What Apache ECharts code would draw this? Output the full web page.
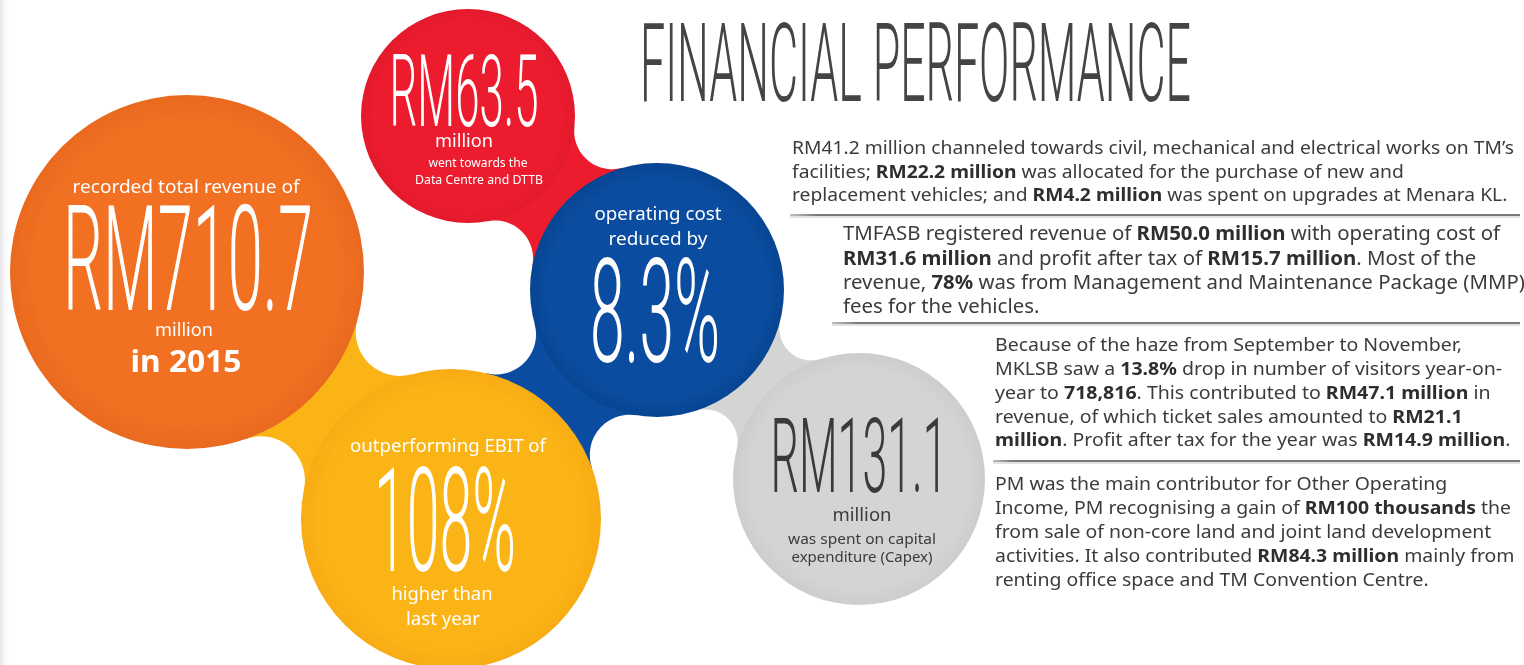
<!DOCTYPE html>
<html>
<head>
<meta charset="utf-8">
<title>Financial Performance</title>
<script src="https://cdn.jsdelivr.net/npm/echarts@6/dist/echarts.min.js"></script>
<style>
  html, body { margin: 0; padding: 0; background: #fff; }
  #chart { width: 1524px; height: 665px; }
</style>
</head>
<body>
<div id="chart"></div>
<script>
// headline figures, one per bubble
const bubbleKeys = ['revenue', 'dataCentre', 'opCost', 'ebit', 'capex'];
const bigFigures = ['RM710.7', 'RM63.5', '8.3%', '108%', 'RM131.1'];
const captionsAbove = [
  ['recorded total revenue of'],
  [],
  ['operating cost', 'reduced by'],
  ['outperforming EBIT of'],
  []
];
const captionsBelow = [
  ['million', 'in 2015'],
  ['million', 'went towards the', 'Data Centre and DTTB'],
  [],
  ['higher than', 'last year'],
  ['million', 'was spent on capital', 'expenditure (Capex)']
];
const bubbleLinks = [['revenue', 'ebit'], ['dataCentre', 'opCost'], ['opCost', 'ebit'], ['opCost', 'capex']];
const titleText = 'FINANCIAL PERFORMANCE';
// ** marks the bold runs
const notes = [
  ['RM41.2 million channeled towards civil, mechanical and electrical works on TM’s',
   'facilities; **RM22.2 million** was allocated for the purchase of new and',
   'replacement vehicles; and **RM4.2 million** was spent on upgrades at Menara KL.'],
  ['TMFASB registered revenue of **RM50.0 million** with operating cost of',
   '**RM31.6 million** and profit after tax of **RM15.7 million**. Most of the',
   'revenue, **78%** was from Management and Maintenance Package (MMP)',
   'fees for the vehicles.'],
  ['Because of the haze from September to November,',
   'MKLSB saw a **13.8%** drop in number of visitors year-on-',
   'year to **718,816**. This contributed to **RM47.1 million** in',
   'revenue, of which ticket sales amounted to **RM21.1**',
   '**million**. Profit after tax for the year was **RM14.9 million**.'],
  ['PM was the main contributor for Other Operating',
   'Income, PM recognising a gain of **RM100 thousands** the',
   'from sale of non-core land and joint land development',
   'activities. It also contributed **RM84.3 million** mainly from',
   'renting office space and TM Convention Centre.']
];

// ---- layout & styling (pixels on a 1524 x 665 canvas) ----
const W = 1524, H = 665;
const FIG_FONT = 'Roboto, "Liberation Sans Narrow", sans-serif';
const CAP_FONT = '"Noto Sans", "Open Sans", sans-serif';
const BODY_FONT = '"Noto Sans", "Open Sans", sans-serif';

const bubbleLayout = {
  revenue:    { x: 187, y: 272, r: 177, color: '#f17022', edge: '#e96a1f', ink: '#ffffff' },
  dataCentre: { x: 468, y: 116, r: 107, color: '#ec1c2e', edge: '#e21a2c', ink: '#ffffff' },
  opCost:     { x: 657, y: 290, r: 127, color: '#0a4c9f', edge: '#074592', ink: '#ffffff' },
  ebit:       { x: 451, y: 519, r: 150, color: '#fbb415', edge: '#f8ac14', ink: '#ffffff' },
  capex:      { x: 859, y: 479, r: 126, color: '#d4d4d4', edge: '#cdcdcd', ink: '#3a3a3a' }
};
// figure: y = cap centre, w = drawn width; lines: centre x/y, drawn width, font size
const bubbleText = {
  revenue: {
    figure: { x: 188, y: 260, w: 250, size: 146 },
    above: [{ x: 186, y: 186, w: 227, size: 18 }],
    below: [{ x: 184, y: 329, w: 58, size: 18 }, { x: 186, y: 361, w: 111, size: 30, bold: true }]
  },
  dataCentre: {
    figure: { x: 464, y: 91, w: 149, size: 100 },
    above: [],
    below: [{ x: 464, y: 140, w: 58, size: 18 }, { x: 478, y: 162, w: 99, size: 13 }, { x: 479, y: 179, w: 128, size: 13 }]
  },
  opCost: {
    figure: { x: 655, y: 312, w: 130, size: 145 },
    above: [{ x: 658, y: 213, w: 127, size: 18 }, { x: 658, y: 238, w: 99, size: 18 }],
    below: []
  },
  ebit: {
    figure: { x: 445, y: 521, w: 142, size: 144 },
    above: [{ x: 448, y: 445, w: 196, size: 18 }],
    below: [{ x: 442, y: 593, w: 101, size: 18 }, { x: 443, y: 618, w: 74, size: 18 }]
  },
  capex: {
    figure: { x: 859, y: 456, w: 177, size: 104 },
    above: [],
    below: [{ x: 862, y: 514, w: 59, size: 18 }, { x: 862, y: 539, w: 148, size: 14 }, { x: 862, y: 557, w: 141, size: 14 }]
  }
};
// neck between two bubbles: fillet radius and which bubble's colour fills it
const linkShape = [
  { fillet: 44, owner: 1 },
  { fillet: 38, owner: 0 },
  { fillet: 40, owner: 0 },
  { fillet: 32, owner: 1 }
];
const noteLayout = [
  { x: 792, y: 149, lh: 23.5, ref: 0, w: 722, size: 18 },
  { x: 843, y: 235, lh: 24.2, ref: 0, w: 657, size: 19 },
  { x: 995, y: 346, lh: 23.8, ref: 0, w: 467, size: 18 },
  { x: 995, y: 485, lh: 24, ref: 1, w: 516, size: 18 }
];
const rules = [
  { x1: 790, x2: 1520, y: 215 },
  { x1: 832, x2: 1520, y: 323 },
  { x1: 993, x2: 1520, y: 461 }
];

const measureCtx = document.createElement('canvas').getContext('2d');
function measure(text, size, weight, family) {
  measureCtx.font = weight + ' ' + size + 'px ' + family;
  return measureCtx.measureText(text).width;
}

// text squeezed horizontally to a target width; y is the visual centre
function fitText(str, o) {
  const nat = measure(str, o.size, o.weight, o.family);
  return {
    type: 'text', x: o.x, y: o.y + o.size * 0.095, scaleX: o.w / nat,
    style: {
      text: str, fontSize: o.size, fontWeight: o.weight, fontFamily: o.family,
      fill: o.color, align: o.align || 'center', verticalAlign: 'middle'
    }
  };
}

function segments(line) {
  return line.split('**').map((t, i) => ({ t, b: i % 2 === 1 })).filter(s => s.t);
}

function noteElements() {
  const els = [];
  notes.forEach((lines, p) => {
    const L = noteLayout[p];
    const widthOf = line => segments(line).reduce((s, g) => s + measure(g.t, L.size, g.b ? 700 : 400, BODY_FONT), 0);
    const sx = L.w / widthOf(lines[L.ref]);
    const rich = {
      n: { fontSize: L.size, fontFamily: BODY_FONT, fontWeight: 400, fill: '#3b3b3b' },
      b: { fontSize: L.size, fontFamily: BODY_FONT, fontWeight: 700, fill: '#2e2e2e' }
    };
    lines.forEach((line, k) => {
      els.push({
        type: 'text', x: L.x, y: L.y + k * L.lh, scaleX: sx,
        style: {
          text: segments(line).map(g => '{' + (g.b ? 'b' : 'n') + '|' + g.t + '}').join(''),
          rich, align: 'left', verticalAlign: 'middle'
        }
      });
    });
  });
  rules.forEach(r => {
    els.push({ type: 'line', shape: { x1: r.x1, y1: r.y + 2, x2: r.x2, y2: r.y + 2 }, style: { stroke: '#e2e2e2', lineWidth: 2 } });
    els.push({
      type: 'line', shape: { x1: r.x1, y1: r.y, x2: r.x2, y2: r.y },
      style: {
        lineWidth: 2,
        stroke: new echarts.graphic.LinearGradient(0, 0, 1, 0, [
          { offset: 0, color: '#c8c8c8' }, { offset: 0.04, color: '#7a7a7a' }, { offset: 1, color: '#7a7a7a' }
        ])
      }
    });
  });
  return els;
}

const chart = echarts.init(document.getElementById('chart'));

function renderBubble(params, api) {
  const i = api.value(3);
  const key = bubbleKeys[i];
  const L = bubbleLayout[key];
  const T = bubbleText[key];
  const c = api.coord([api.value(0), api.value(1)]);
  const r = api.size([api.value(2), 0])[0];
  const at = (x, y) => api.coord([x, y]);
  const children = [{
    type: 'circle',
    shape: { cx: c[0], cy: c[1], r },
    style: {
      fill: new echarts.graphic.RadialGradient(0.5, 0.5, 0.5, [
        { offset: 0, color: L.color }, { offset: 0.86, color: L.color }, { offset: 1, color: L.edge }
      ])
    }
  }];
  const lines = captionsAbove[i].map((t, k) => [t, T.above[k]]).concat(captionsBelow[i].map((t, k) => [t, T.below[k]]));
  lines.forEach(([t, o]) => {
    const p = at(o.x, o.y);
    children.push(fitText(t, { x: p[0], y: p[1], w: o.w, size: o.size, weight: o.bold ? 700 : 400, family: CAP_FONT, color: L.ink }));
  });
  const f = T.figure;
  const fp = at(f.x, f.y);
  children.push(fitText(bigFigures[i], { x: fp[0], y: fp[1], w: f.w, size: f.size, weight: 300, family: FIG_FONT, color: L.ink }));
  return { type: 'group', children };
}

// neck = the area between two bubbles bounded by two fillet circles touching both
function renderLink(params, api) {
  const i = api.value(4);
  const A = bubbleLayout[bubbleLinks[i][0]], B = bubbleLayout[bubbleLinks[i][1]];
  const S = linkShape[i];
  const a = api.coord([api.value(0), api.value(1)]);
  const b = api.coord([api.value(2), api.value(3)]);
  const ra = api.size([A.r, 0])[0], rb = api.size([B.r, 0])[0], rf = S.fillet;
  const dx = b[0] - a[0], dy = b[1] - a[1], d = Math.hypot(dx, dy);
  const u = [dx / d, dy / d], n = [-u[1], u[0]];
  const along = ((ra + rf) ** 2 - (rb + rf) ** 2 + d * d) / (2 * d);
  const h = Math.sqrt((ra + rf) ** 2 - along * along);
  const side = s => {
    const F = [a[0] + u[0] * along + n[0] * h * s, a[1] + u[1] * along + n[1] * h * s];
    const ta = Math.atan2(a[1] - F[1], a[0] - F[0]);
    let tb = Math.atan2(b[1] - F[1], b[0] - F[0]);
    let dt = tb - ta;
    while (dt > Math.PI) dt -= 2 * Math.PI;
    while (dt < -Math.PI) dt += 2 * Math.PI;
    const pts = [];
    for (let k = 0; k <= 30; k++) {
      const t = ta + dt * k / 30;
      pts.push([F[0] + rf * Math.cos(t), F[1] + rf * Math.sin(t)]);
    }
    return pts;
  };
  const points = [a].concat(side(1), [b], side(-1).reverse());
  const fill = S.owner === 0 ? A.color : B.color;
  return { type: 'polygon', shape: { points }, style: { fill } };
}

const titleEl = fitText(titleText, { x: 640, y: 63, w: 551, size: 110, weight: 300, family: FIG_FONT, color: '#444444', align: 'left' });

chart.setOption({
  animation: false,
  grid: { left: 0, right: 0, top: 0, bottom: 0 },
  xAxis: { type: 'value', min: 0, max: W, show: false },
  yAxis: { type: 'value', min: 0, max: H, inverse: true, show: false },
  graphic: [
    {
      type: 'rect', shape: { x: 0, y: 0, width: 10, height: H }, silent: true,
      style: { fill: new echarts.graphic.LinearGradient(0, 0, 1, 0, [{ offset: 0, color: '#e6e6e6' }, { offset: 1, color: 'rgba(255,255,255,0)' }]) }
    },
    titleEl
  ].concat(noteElements()),
  series: [
    {
      type: 'custom', name: 'links', z: 1, silent: true,
      data: bubbleLinks.map(([ka, kb], i) => [bubbleLayout[ka].x, bubbleLayout[ka].y, bubbleLayout[kb].x, bubbleLayout[kb].y, i]),
      encode: { x: [0, 2], y: [1, 3] },
      renderItem: renderLink
    },
    {
      type: 'custom', name: 'bubbles', z: 2, silent: true,
      data: bubbleKeys.map((k, i) => [bubbleLayout[k].x, bubbleLayout[k].y, bubbleLayout[k].r, i]),
      encode: { x: 0, y: 1 },
      renderItem: renderBubble
    }
  ]
});
</script>
</body>
</html>
